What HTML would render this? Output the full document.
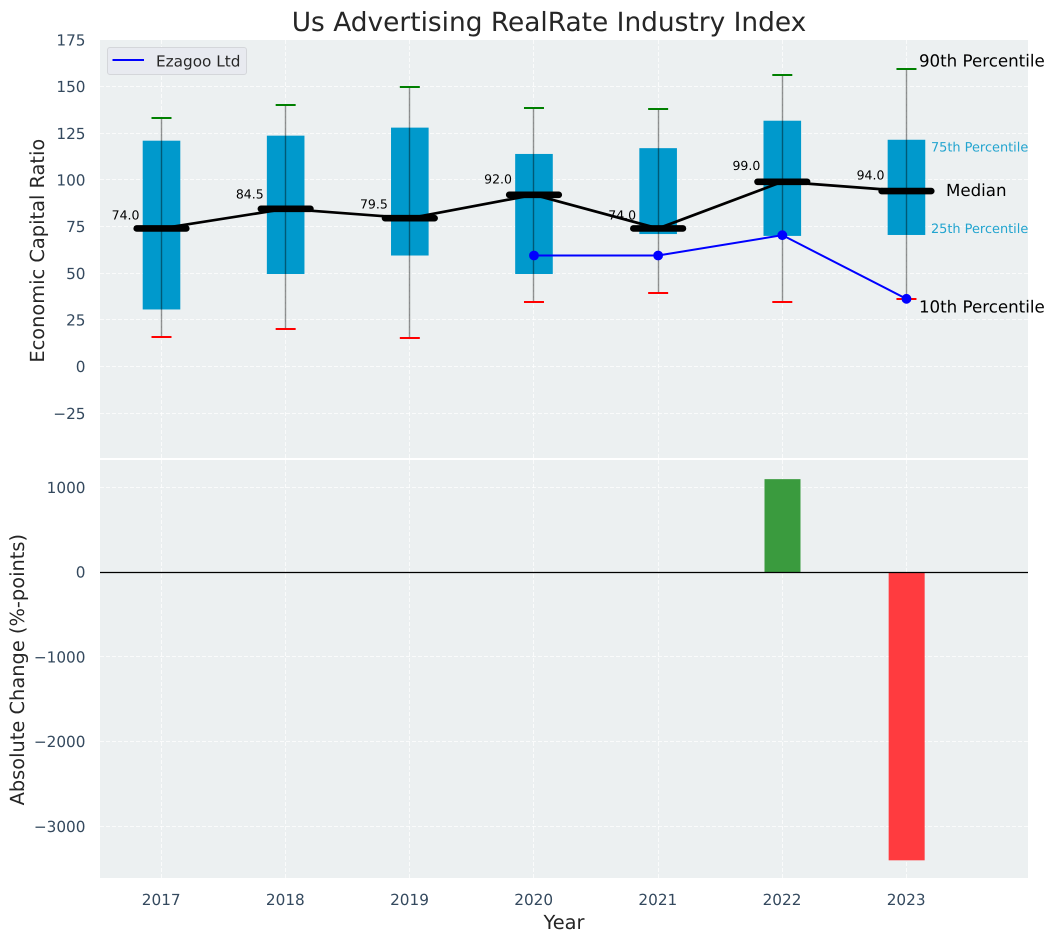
<!DOCTYPE html>
<html>
<head>
<meta charset="utf-8">
<title>Us Advertising RealRate Industry Index</title>
<style>
html,body{margin:0;padding:0;background:#fff;width:1054px;height:942px;overflow:hidden}
svg{display:block}
text{font-family:"DejaVu Sans","Liberation Sans",sans-serif;text-rendering:geometricPrecision}
</style>
</head>
<body>
<svg id="chart" xmlns="http://www.w3.org/2000/svg" width="1054" height="942" viewBox="0 0 1054 942"></svg>
<script>
const years = [2017, 2018, 2019, 2020, 2021, 2022, 2023];
const p10 = [15.7, 20, 15.2, 34.8, 39.6, 34.8, 36.4];
const p25 = [30.6, 49.6, 59.5, 49.6, 71, 70, 70.5];
const medians = [74, 84.5, 79.5, 92, 74, 99, 94];
const p75 = [121, 123.7, 128, 113.9, 117, 131.7, 121.5];
const p90 = [133.3, 140.2, 150, 138.6, 138, 156, 159.2];
const companyYears = [2020, 2021, 2022, 2023];
const companyValues = [59.5, 59.5, 70.4, 36.3];
const changeYears = [2022, 2023];
const changeValues = [1095, -3400];
const topTicks = [175, 150, 125, 100, 75, 50, 25, 0, -25];
const bottomTicks = [1000, 0, -1000, -2000, -3000];

const NS = 'http://www.w3.org/2000/svg';
const svg = document.getElementById('chart');
const L = 100, R = 1028, T1 = 40, B1 = 458, T2 = 460, B2 = 878;
const xPerYear = 124.16;
const x = function (yr) { return 161.5 + (yr - 2017) * xPerYear; };
const y1 = function (v) { return 366.6 - v * 1.867; };
const y2 = function (v) { return 572 - v * 0.0848; };
const snap = function (p) { return Math.floor(p) + 0.5; };
const fmt = function (n) { return String(n).replace('-', '\u2212'); };
const TICK_SIZE = 15.28;

function make(tag, attrs, parent, txt) {
  const el = document.createElementNS(NS, tag);
  for (const k in attrs) el.setAttribute(k, attrs[k]);
  if (txt !== undefined) el.textContent = txt;
  (parent || svg).appendChild(el);
  return el;
}

/* panels */
let el = make('rect', {x: L, y: T1, width: R - L, height: B1 - T1, fill: '#ecf0f1'});


el = make('rect', {x: L, y: T2, width: R - L, height: B2 - T2, fill: '#ecf0f1'});



/* grid */
const grid = {stroke: '#ffffff', 'stroke-width': 1, 'stroke-dasharray': '4 2', opacity: 0.75};
topTicks.forEach(function (t) {
  const g = make('line', Object.assign({x1: L, x2: R, y1: snap(y1(t)), y2: snap(y1(t))}, grid));
  
  
});
bottomTicks.forEach(function (t) {
  const g = make('line', Object.assign({x1: L, x2: R, y1: snap(y2(t)), y2: snap(y2(t))}, grid));
  
  
});
years.forEach(function (yr) {
  let g = make('line', Object.assign({x1: snap(x(yr)), x2: snap(x(yr)), y1: T1, y2: B1}, grid));
  
  
  g = make('line', Object.assign({x1: snap(x(yr)), x2: snap(x(yr)), y1: T2, y2: B2}, grid));
  
  
});

/* tick labels */
topTicks.forEach(function (t) {
  const e = make('text', {x: 85.5, y: y1(t) + 5.6, 'text-anchor': 'end', 'font-size': TICK_SIZE, fill: '#34495e'}, svg, fmt(t));
  
  
});
bottomTicks.forEach(function (t) {
  const e = make('text', {x: 85.5, y: y2(t) + 5.6, 'text-anchor': 'end', 'font-size': TICK_SIZE, fill: '#34495e'}, svg, fmt(t));
  
  
});
years.forEach(function (yr) {
  const e = make('text', {x: x(yr) - 0.3, y: 905, 'text-anchor': 'middle', 'font-size': TICK_SIZE, fill: '#34495e'}, svg, String(yr));
  
  
});

/* percentile boxes */
years.forEach(function (yr, i) {
  const b = make('rect', {x: x(yr) - 18.8, width: 37.6, y: y1(p75[i]), height: y1(p25[i]) - y1(p75[i]), fill: '#0099cc'});
  
  
});

/* whiskers and caps */
years.forEach(function (yr, i) {
  const w = make('line', {x1: snap(x(yr)), x2: snap(x(yr)), y1: y1(p90[i]), y2: y1(p10[i]), stroke: '#000', 'stroke-opacity': 0.42, 'stroke-width': 1.4});
  
  
  const top = make('line', {x1: x(yr) - 10, x2: x(yr) + 10, y1: Math.round(y1(p90[i])), y2: Math.round(y1(p90[i])), stroke: '#008000', 'stroke-width': 2});
  
  
  const bot = make('line', {x1: x(yr) - 10, x2: x(yr) + 10, y1: Math.round(y1(p10[i])), y2: Math.round(y1(p10[i])), stroke: '#ff0000', 'stroke-width': 2});
  
  
});

/* median value labels */
years.forEach(function (yr, i) {
  const lift = 9 + (medians[i] - 74) * 0.12;
  const e = make('text', {x: x(yr) - 22, y: y1(medians[i]) - lift, 'text-anchor': 'end', 'font-size': 12.5, fill: '#000'}, svg, medians[i].toFixed(1));
  
  
});

/* median line and bars */
const medianPath = make('polyline', {points: years.map(function (yr, i) { return x(yr) + ',' + y1(medians[i]); }).join(' '), fill: 'none', stroke: '#000', 'stroke-width': 2.7, 'stroke-linejoin': 'round'});


years.forEach(function (yr, i) {
  const m = make('line', {x1: x(yr) - 24.8, x2: x(yr) + 24.8, y1: y1(medians[i]), y2: y1(medians[i]), stroke: '#000', 'stroke-width': 6.6, 'stroke-linecap': 'round'});
  
  
});

/* company series */
const companyLine = make('polyline', {points: companyYears.map(function (yr, i) { return x(yr) + ',' + y1(companyValues[i]); }).join(' '), fill: 'none', stroke: '#0000ff', 'stroke-width': 2});


companyYears.forEach(function (yr, i) {
  const c = make('circle', {cx: x(yr), cy: y1(companyValues[i]), r: 4.9, fill: '#0000ff'});
  
  
});

/* percentile annotations anchored on the last year */
const last = years.length - 1;
const lastX = x(years[last]);
let a = make('text', {x: lastX + 12.5, y: y1(p90[last]) - 3, 'font-size': 16.67, fill: '#000'}, svg, '90th Percentile');


a = make('text', {x: lastX + 12.5, y: y1(p10[last]) + 14, 'font-size': 16.67, fill: '#000'}, svg, '10th Percentile');


a = make('text', {x: lastX + 39.5, y: y1(medians[last]) + 5, 'font-size': 16.67, fill: '#000'}, svg, 'Median');


a = make('text', {x: lastX + 24.5, y: y1(p75[last]) + 11.5, 'font-size': 12.9, fill: '#22a4cf'}, svg, '75th Percentile');


a = make('text', {x: lastX + 24.5, y: y1(p25[last]) - 2, 'font-size': 12.9, fill: '#22a4cf'}, svg, '25th Percentile');



/* change bars */
changeYears.forEach(function (yr, i) {
  const v = changeValues[i];
  const r = make('rect', {x: x(yr) - 17.8, width: 36, y: Math.min(y2(v), y2(0)), height: Math.abs(y2(v) - y2(0)), fill: v >= 0 ? '#3a9b3e' : '#ff3b3f'});
  
  
});
const zero = make('line', {x1: L, x2: R, y1: y2(0) + 0.5, y2: y2(0) + 0.5, stroke: '#000', 'stroke-width': 1.2});



/* legend */
const legendBox = make('rect', {x: 107.5, y: 47.5, width: 139, height: 27, rx: 2.5, fill: '#e8eaf0', stroke: '#d4d6da', 'stroke-width': 1});


const legendLine = make('line', {x1: 112.5, x2: 144, y1: 60, y2: 60, stroke: '#0000ff', 'stroke-width': 2});


const legendText = make('text', {x: 156, y: 66.5, 'font-size': TICK_SIZE, fill: '#262626'}, svg, 'Ezagoo Ltd');



/* titles */
const title = make('text', {x: 549, y: 31, 'text-anchor': 'middle', 'font-size': 26.4, fill: '#262626'}, svg, 'Us Advertising RealRate Industry Index');


const xTitle = make('text', {x: 564, y: 929, 'text-anchor': 'middle', 'font-size': 19.4, fill: '#262626'}, svg, 'Year');


const yTitle1 = make('text', {x: 0, y: 0, 'text-anchor': 'middle', 'font-size': 19.4, fill: '#262626', transform: 'translate(44,250.7) rotate(-90)'}, svg, 'Economic Capital Ratio');


const yTitle2 = make('text', {x: 0, y: 0, 'text-anchor': 'middle', 'font-size': 19.4, fill: '#262626', transform: 'translate(24,669.7) rotate(-90)'}, svg, 'Absolute Change (%-points)');


</script>
</body>
</html>
